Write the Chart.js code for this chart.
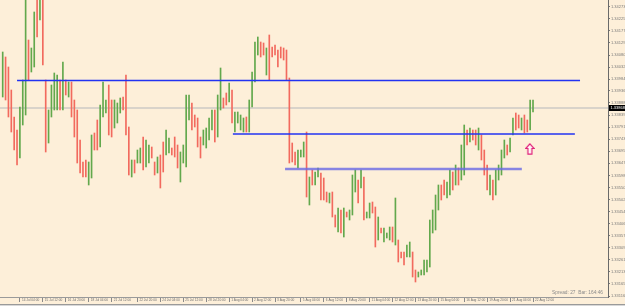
<!DOCTYPE html>
<html><head><meta charset="utf-8">
<script src="https://cdn.jsdelivr.net/npm/chart.js@4/dist/chart.umd.min.js"></script>
<style>html,body{margin:0;padding:0;background:#fdefd9;}canvas{display:block;}</style>
</head><body>
<canvas id="c" width="625" height="306"></canvas>
<script>
// ---- data (H4 bars, prices) ----
const highs = [
1.34092,1.34072,1.34032,1.33940,1.33832,1.33780,1.33872,1.33980,1.34340,1.34140,
1.34108,1.34252,1.34320,1.34360,1.34320,1.33980,1.33860,1.33960,1.34008,1.34000,
1.33980,1.34052,1.33980,1.33972,1.33972,1.33900,1.33860,1.33740,1.33652,1.33660,
1.33652,1.33760,1.33768,1.33820,1.33880,1.33972,1.33900,1.33960,1.33900,1.33900,
1.33888,1.33908,1.33912,1.34000,1.33792,1.33660,1.33660,1.33700,1.33708,1.33752,
1.33740,1.33720,1.33712,1.33652,1.33672,1.33680,1.33732,1.33780,1.33748,1.33708,
1.33752,1.33720,1.33692,1.33720,1.33920,1.33920,1.33888,1.33840,1.33828,1.33752,
1.33780,1.33788,1.33828,1.33860,1.33860,1.33920,1.34028,1.33908,1.33928,1.33968,
1.33940,1.33852,1.33852,1.33840,1.33828,1.33832,1.33900,1.34012,1.34132,1.34152,
1.34132,1.34128,1.34108,1.34160,1.34112,1.34120,1.34100,1.34112,1.34108,1.34100,
1.33988,1.33728,1.33692,1.33700,1.33700,1.33732,1.33772,1.33592,1.33620,1.33612,
1.33628,1.33608,1.33588,1.33532,1.33528,1.33532,1.33440,1.33468,1.33460,1.33468,
1.33452,1.33460,1.33600,1.33620,1.33580,1.33620,1.33592,1.33452,1.33488,1.33492,
1.33472,1.33432,1.33388,1.33388,1.33368,1.33392,1.33392,1.33508,1.33340,1.33292,
1.33292,1.33320,1.33332,1.33292,1.33220,1.33212,1.33220,1.33260,1.33260,1.33420,
1.33460,1.33520,1.33560,1.33560,1.33580,1.33572,1.33620,1.33612,1.33640,1.33628,
1.33720,1.33800,1.33780,1.33788,1.33780,1.33780,1.33788,1.33760,1.33700,1.33640,
1.33600,1.33580,1.33620,1.33640,1.33700,1.33740,1.33720,1.33748,1.33828,1.33848,
1.33840,1.33828,1.33840,1.33820,1.33900,1.33900];
const lows = [
1.33912,1.33900,1.33832,1.33772,1.33700,1.33640,1.33668,1.33800,1.33840,1.33980,
1.34012,1.34032,1.34152,1.34220,1.34040,1.33692,1.33728,1.33832,1.33860,1.33860,
1.33860,1.33860,1.33920,1.33912,1.33832,1.33752,1.33648,1.33608,1.33592,1.33592,
1.33560,1.33588,1.33700,1.33700,1.33712,1.33832,1.33848,1.33760,1.33752,1.33788,
1.33808,1.33848,1.33860,1.33760,1.33600,1.33592,1.33608,1.33648,1.33648,1.33620,
1.33632,1.33648,1.33668,1.33600,1.33608,1.33548,1.33612,1.33680,1.33688,1.33680,
1.33672,1.33628,1.33572,1.33648,1.33632,1.33820,1.33780,1.33792,1.33712,1.33668,
1.33720,1.33708,1.33740,1.33780,1.33732,1.33752,1.33860,1.33868,1.33880,1.33892,
1.33808,1.33772,1.33808,1.33780,1.33772,1.33772,1.33772,1.33872,1.33972,1.34080,
1.34072,1.34080,1.34000,1.33980,1.34072,1.34080,1.34032,1.34068,1.34060,1.33980,
1.33648,1.33652,1.33640,1.33628,1.33672,1.33672,1.33512,1.33480,1.33560,1.33560,
1.33592,1.33500,1.33500,1.33492,1.33488,1.33432,1.33392,1.33372,1.33368,1.33352,
1.33432,1.33420,1.33440,1.33532,1.33488,1.33548,1.33420,1.33428,1.33428,1.33448,
1.33312,1.33340,1.33368,1.33332,1.33348,1.33340,1.33332,1.33320,1.33252,1.33268,
1.33240,1.33272,1.33272,1.33192,1.33172,1.33192,1.33200,1.33200,1.33212,1.33232,
1.33368,1.33380,1.33460,1.33500,1.33520,1.33508,1.33520,1.33540,1.33560,1.33560,
1.33580,1.33600,1.33720,1.33732,1.33740,1.33720,1.33700,1.33660,1.33600,1.33540,
1.33520,1.33500,1.33520,1.33580,1.33600,1.33668,1.33680,1.33692,1.33760,1.33780,
1.33788,1.33780,1.33768,1.33772,1.33780,1.33852];
const opens = [
1.33956,1.34028,1.33984,1.33900,1.33800,1.33744,1.33720,1.33844,1.33964,1.34100,
1.34036,1.34088,1.34280,1.34256,1.34252,1.33908,1.33760,1.33864,1.33896,1.33896,
1.33948,1.33908,1.33964,1.33928,1.33936,1.33864,1.33808,1.33708,1.33636,1.33644,
1.33584,1.33632,1.33752,1.33788,1.33752,1.33868,1.33860,1.33912,1.33864,1.33816,
1.33828,1.33864,1.33900,1.33940,1.33744,1.33608,1.33648,1.33660,1.33664,1.33720,
1.33660,1.33664,1.33700,1.33640,1.33624,1.33648,1.33704,1.33704,1.33704,1.33700,
1.33732,1.33696,1.33600,1.33664,1.33704,1.33844,1.33860,1.33828,1.33800,1.33732,
1.33736,1.33728,1.33760,1.33800,1.33828,1.33792,1.33900,1.33900,1.33916,1.33912,
1.33908,1.33792,1.33820,1.33796,1.33788,1.33816,1.33804,1.33908,1.34012,1.34100,
1.34116,1.34116,1.34028,1.34116,1.34100,1.34108,1.34084,1.34100,1.34096,1.34068,
1.33904,1.33708,1.33680,1.33648,1.33680,1.33688,1.33708,1.33508,1.33604,1.33572,
1.33600,1.33580,1.33568,1.33524,1.33496,1.33508,1.33428,1.33396,1.33436,1.33380,
1.33448,1.33428,1.33480,1.33552,1.33556,1.33564,1.33548,1.33432,1.33444,1.33480,
1.33432,1.33364,1.33384,1.33348,1.33352,1.33352,1.33376,1.33368,1.33320,1.33288,
1.33280,1.33284,1.33288,1.33268,1.33208,1.33196,1.33204,1.33216,1.33224,1.33280,
1.33392,1.33416,1.33484,1.33544,1.33564,1.33524,1.33544,1.33596,1.33580,1.33612,
1.33616,1.33648,1.33764,1.33748,1.33772,1.33764,1.33720,1.33736,1.33676,1.33616,
1.33540,1.33560,1.33544,1.33596,1.33624,1.33684,1.33712,1.33708,1.33776,1.33832,
1.33828,1.33792,1.33824,1.33808,1.33808,1.33860];
const closes = [
1.34048,1.33944,1.33880,1.33812,1.33732,1.33676,1.33820,1.33936,1.34216,1.34020,
1.34084,1.34196,1.34192,1.34324,1.34108,1.33764,1.33828,1.33928,1.33972,1.33964,
1.33892,1.34004,1.33936,1.33956,1.33868,1.33788,1.33700,1.33640,1.33608,1.33608,
1.33628,1.33716,1.33716,1.33732,1.33840,1.33936,1.33888,1.33808,1.33788,1.33872,
1.33868,1.33892,1.33872,1.33820,1.33648,1.33644,1.33620,1.33688,1.33692,1.33652,
1.33712,1.33704,1.33680,1.33612,1.33656,1.33580,1.33640,1.33756,1.33732,1.33688,
1.33692,1.33652,1.33664,1.33704,1.33848,1.33896,1.33808,1.33804,1.33740,1.33688,
1.33764,1.33768,1.33808,1.33840,1.33764,1.33880,1.33988,1.33876,1.33892,1.33948,
1.33840,1.33832,1.33840,1.33824,1.33812,1.33788,1.33868,1.33976,1.34092,1.34132,
1.34088,1.34092,1.34080,1.34024,1.34084,1.34092,1.34048,1.34080,1.34072,1.34012,
1.33732,1.33672,1.33652,1.33680,1.33692,1.33716,1.33576,1.33564,1.33576,1.33600,
1.33620,1.33528,1.33520,1.33500,1.33520,1.33456,1.33404,1.33444,1.33392,1.33440,
1.33436,1.33452,1.33560,1.33600,1.33512,1.33604,1.33464,1.33448,1.33472,1.33460,
1.33352,1.33408,1.33372,1.33372,1.33364,1.33380,1.33348,1.33460,1.33272,1.33272,
1.33252,1.33308,1.33316,1.33216,1.33184,1.33208,1.33216,1.33244,1.33248,1.33372,
1.33436,1.33484,1.33536,1.33516,1.33536,1.33556,1.33596,1.33556,1.33620,1.33576,
1.33684,1.33752,1.33736,1.33772,1.33748,1.33736,1.33768,1.33684,1.33624,1.33564,
1.33580,1.33520,1.33596,1.33624,1.33676,1.33724,1.33688,1.33732,1.33812,1.33796,
1.33800,1.33816,1.33784,1.33784,1.33872,1.33868];

const priceTicks = [1.34273,1.34225,1.34177,1.34129,1.34080,1.34032,1.33984,1.33936,1.33888,1.33839,
1.33791,1.33743,1.33695,1.33647,1.33598,1.33550,1.33502,1.33454,1.33406,1.33357,1.33309,1.33261,1.33213,1.33165,1.33116];
const timeTickBars = [6,14,22,30,38,47,55,63,71,79,87,95,104,112,120,128,136,144,152,161,169,177,185];
const timeTickLabels = ["14 Jul 04:00","15 Jul 12:00","16 Jul 20:00","18 Jul 04:00","21 Jul 12:00","22 Jul 20:00",
"24 Jul 04:00","25 Jul 12:00","28 Jul 20:00","1 Aug 04:00","2 Aug 12:00","3 Aug 20:00","5 Aug 04:00","6 Aug 12:00",
"8 Aug 20:00","11 Aug 04:00","12 Aug 12:00","13 Aug 20:00","15 Aug 04:00","16 Aug 12:00","19 Aug 20:00","21 Aug 04:00","22 Aug 12:00"];

const levelPrices = [1.33978, 1.33764, 1.33624];
const levelStartBars = [5.0, 80.3, 98.5];
const levelEndBars = [201.4, 199.6, 181.1];
const bidPrice = 1.33868;
const arrowBar = 183.9, arrowPrice = 1.33704;
const statusText = "Spread: 27  Bar: 164:46";

// ---- rendering ----
Chart.defaults.font.family = "'Liberation Sans', Arial, sans-serif";
const X_MIN = -0.942, X_MAX = 211.16, Y_MIN = 1.33112, Y_MAX = 1.34300;
const UP = '#62a84c', DOWN = '#f26a5e';

function makeArrow(){
  const c = document.createElement('canvas'); c.width = 10; c.height = 12;
  const g = c.getContext('2d');
  g.beginPath(); g.moveTo(5,0.8); g.lineTo(9.2,5.5); g.lineTo(7,5.5); g.lineTo(7,11.2);
  g.lineTo(3,11.2); g.lineTo(3,5.5); g.lineTo(0.8,5.5); g.closePath();
  g.fillStyle = '#fff6f4'; g.fill(); g.strokeStyle = '#e0207a'; g.lineWidth = 1.2; g.stroke();
  return c;
}

const bg = {
  id:'bg',
  beforeDraw(ch){ const g=ch.ctx; g.save(); g.fillStyle='#fdefd9'; g.fillRect(0,0,ch.width,ch.height); g.restore(); },
  afterDraw(ch){
    const g=ch.ctx, y=ch.scales.y, a=ch.chartArea;
    g.save();
    const py = y.getPixelForValue(bidPrice);
    g.fillStyle='#000'; g.fillRect(a.right+1, py-3, 16, 6);
    g.fillStyle='#fff'; g.font="4px 'Liberation Sans'"; g.textBaseline='middle'; g.textAlign='left';
    g.fillText(bidPrice.toFixed(5), a.right+2.5, py+0.3);
    g.fillStyle='#8a8a8a'; g.font="4.8px 'Liberation Sans'"; g.textAlign='right';
    g.fillText(statusText, 603, a.bottom-4);
    g.fillStyle='#9a9a9a'; g.fillRect(0, 304, ch.width, 1);
    g.fillStyle='#d8d8d8'; g.fillRect(0, 305, ch.width, 1);
    g.restore();
  }
};

const barData = highs.map((h,i)=>({x:i, y:[lows[i], h]}));
const datasets = [
  {type:'line', data:[{x:X_MIN,y:bidPrice},{x:X_MAX,y:bidPrice}], borderColor:'#d9d3ca', borderWidth:2, pointRadius:0, order:5},
  {type:'bar', data:barData, barThickness:1, grouped:false,
   backgroundColor:(c)=> (c.dataIndex!=null && closes[c.dataIndex] >= opens[c.dataIndex]) ? UP : DOWN, order:3},
];
levelPrices.forEach((p,k)=>{
  datasets.push({type:'line', data:[{x:levelStartBars[k],y:p},{x:levelEndBars[k],y:p}],
    borderColor: k===2 ? 'rgba(105,105,228,0.8)' : '#2233f2', borderWidth: k===2 ? 2.6 : 1.3, pointRadius:0, order:1});
});
datasets.push({type:'scatter', data:[{x:arrowBar,y:arrowPrice}], pointStyle:makeArrow(), pointRadius:5, order:0});

new Chart(document.getElementById('c'), {
  type:'bar',
  data:{datasets},
  options:{
    responsive:false, animation:false, devicePixelRatio:1,
    layout:{padding:0, autoPadding:false},
    plugins:{legend:{display:false}, tooltip:{enabled:false}},
    scales:{
      x:{type:'linear', min:X_MIN, max:X_MAX, offset:false,
        grid:{drawOnChartArea:false, drawTicks:true, tickLength:5, color:'#8a8a8a', offset:false},
        border:{display:true, color:'#9a9a9a', width:1},
        ticks:{autoSkip:false, maxRotation:0, minRotation:0, align:'start', labelOffset:2, padding:-4,
          font:{size:3.2}, color:'#6e6e6e', callback:(v,i)=>timeTickLabels[i]},
        afterBuildTicks:(s)=>{ s.ticks = timeTickBars.map(v=>({value:v})); },
        afterFit:(s)=>{ s.height = 9; s.paddingLeft=0; s.paddingRight=0; }
      },
      y:{position:'right', min:Y_MIN, max:Y_MAX,
        grid:{drawOnChartArea:false, drawTicks:true, tickLength:2, color:'#7a7a7a'},
        border:{display:true, color:'#6a6a6a', width:1},
        ticks:{padding:1, font:{size:4}, color:'#7a7a7a', callback:(v)=>Number(v).toFixed(5)},
        afterBuildTicks:(s)=>{ s.ticks = priceTicks.map(v=>({value:v})); },
        afterFit:(s)=>{ s.width = 17; s.paddingTop=0; s.paddingBottom=0; }
      }
    }
  },
  plugins:[bg]
});
</script>
</body></html>
